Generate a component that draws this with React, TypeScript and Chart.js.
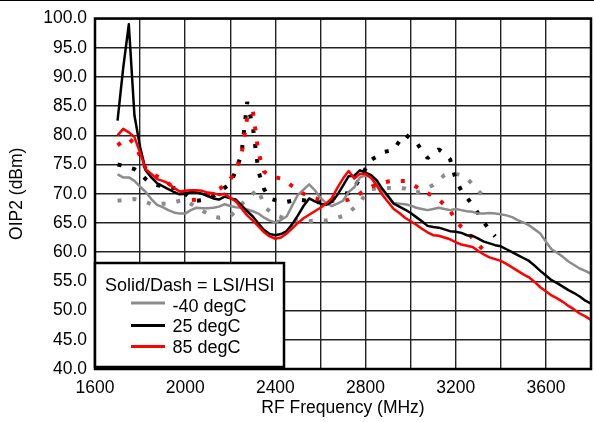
import React, { useEffect, useRef } from "react";
import { Chart, registerables } from "chart.js";

Chart.register(...registerables);

const FONT = '"Liberation Sans", Arial, sans-serif';

// Frequencies (MHz)
const lsiFreq = [
  1700, 1725, 1750, 1775, 1800, 1825, 1850, 1875, 1900, 1925, 1950, 1975,
  2000, 2025, 2050, 2075, 2100, 2125, 2150, 2175, 2200, 2225, 2250, 2275,
  2300, 2325, 2350, 2375, 2400, 2425, 2450, 2475, 2500, 2525, 2550, 2575,
  2600, 2625, 2650, 2675, 2700, 2725, 2750, 2775, 2800, 2825, 2850, 2875,
  2900, 2925, 2950, 2975, 3000, 3025, 3050, 3075, 3100, 3125, 3150, 3175,
  3200, 3225, 3250, 3275, 3300, 3325, 3350, 3375, 3400, 3425, 3450, 3475,
  3500, 3525, 3550, 3575, 3600, 3625, 3650, 3675, 3700, 3725, 3750, 3775, 3800,
];
const hsiFreq = [
  1700, 1725, 1750, 1775, 1800, 1825, 1850, 1875, 1900, 1925, 1950, 1975,
  2000, 2025, 2050, 2075, 2100, 2125, 2150, 2175, 2200, 2225, 2250, 2275,
  2300, 2325, 2350, 2375, 2400, 2425, 2450, 2475, 2500, 2525, 2550, 2575,
  2600, 2625, 2650, 2675, 2700, 2725, 2750, 2775, 2800, 2825, 2850, 2875,
  2900, 2925, 2950, 2975, 3000, 3025, 3050, 3075, 3100, 3125, 3150, 3175,
  3200, 3225, 3250, 3275, 3300, 3325, 3350, 3375,
];

// Solid = LSI
const lsiM40 = [
  73.3, 72.8, 72.8, 72.2, 71.2, 70.3, 69.1, 68.1, 67.7, 67.2, 66.8, 66.6,
  66.6, 67.2, 67.6, 67.5, 67.5, 67.6, 67.8, 68.2, 67.9, 67.7, 67.6, 67.3,
  67.0, 66.6, 65.9, 65.4, 65.1, 65.5, 66.1, 68.0, 69.8, 70.7, 71.6, 70.6,
  69.3, 68.4, 67.9, 68.3, 68.8, 70.3, 71.1, 72.8, 73.1, 72.9, 71.9, 70.4,
  69.4, 68.4, 68.3, 68.2, 68.0, 67.6, 67.4, 67.2, 67.4, 67.6, 67.4, 67.2,
  67.4, 67.2, 67.0, 66.9, 66.6, 66.6, 66.7, 66.6, 66.5, 66.3, 66.0, 65.5,
  65.1, 64.6, 63.9, 63.2, 61.8, 60.5, 59.9, 59.2, 58.4, 57.8, 57.2, 56.8, 56.3,
];
const lsi25 = [
  82.5, 91.5, 99.0, 83.4, 78.0, 74.0, 72.8, 71.8, 71.3, 70.8, 70.3, 69.9,
  70.0, 70.3, 70.2, 70.0, 69.6, 69.2, 69.0, 69.5, 69.2, 69.0, 68.0, 67.0,
  66.1, 64.9, 63.8, 63.1, 62.9, 63.1, 63.6, 64.8, 66.3, 67.9, 69.2, 68.7,
  68.3, 68.1, 68.6, 69.8, 71.4, 73.0, 73.1, 74.0, 73.6, 73.2, 72.3, 70.8,
  69.6, 68.3, 67.8, 67.3, 66.7, 66.0, 65.3, 64.5, 64.3, 64.2, 63.9, 63.6,
  63.5, 63.3, 62.9, 62.8, 62.3, 61.8, 61.5, 61.2, 61.0, 60.5, 60.0, 59.5,
  59.0, 58.5, 57.7, 56.8, 56.0, 55.2, 54.7, 54.1, 53.5, 53.0, 52.4, 51.7, 51.2,
];
const lsi85 = [
  80.0, 81.1, 80.5, 79.7, 77.0, 74.2, 73.4, 72.5, 72.2, 71.8, 71.0, 70.4,
  70.5, 70.6, 70.6, 70.5, 70.2, 70.1, 69.8, 70.0, 69.3, 68.7, 67.5, 66.3,
  65.4, 64.4, 63.4, 62.7, 62.3, 62.5, 63.2, 64.1, 65.0, 65.8, 66.4, 67.0,
  67.6, 68.3, 69.2, 71.0, 72.6, 73.9, 72.6, 73.4, 73.4, 72.7, 71.4, 69.8,
  68.6, 67.4, 66.7, 65.9, 65.3, 64.7, 64.0, 63.4, 62.9, 62.8, 62.5, 62.2,
  61.7, 61.3, 61.1, 60.9, 60.2, 59.6, 59.1, 58.8, 58.5, 58.0, 57.4, 56.8,
  56.2, 55.7, 54.9, 54.0, 53.3, 52.6, 52.1, 51.5, 50.8, 50.2, 49.5, 49.0, 48.4,
];

// Dash = HSI
const hsiM40 = [
  68.8, 68.9, 69.0, 69.1, 68.9, 68.6, 68.2, 68.2, 68.3, 68.3, 68.5, 68.8,
  69.0, 68.3, 67.7, 67.1, 66.6, 66.1, 65.9, 66.0, 66.2, 67.0, 68.2, 69.2,
  70.0, 70.8, 67.8, 67.0, 66.4, 66.0, 65.7, 65.5, 65.4, 65.3, 65.3, 65.4,
  65.4, 65.4, 65.6, 65.9, 66.2, 66.8, 67.6, 68.5, 69.9, 70.8, 70.9, 71.0,
  71.0, 71.0, 71.0, 70.9, 70.6, 70.2, 70.5, 71.0, 71.5, 72.3, 73.2, 73.5,
  73.4, 73.2, 72.6, 71.6, 70.5, 69.5, 68.8,
];
const hsi25 = [
  75.0, 74.8, 74.5, 74.2, 73.5, 72.5, 71.8, 71.5, 71.3, 71.1, 71.0, 70.9,
  70.0, 69.2, 68.8, 68.9, 69.2, 69.6, 70.2, 71.0, 71.7, 74.0, 76.8, 85.7,
  81.5, 73.8, 70.8, 69.2, 68.9, 68.7, 68.6, 68.8, 69.0, 68.9, 68.7, 68.5,
  68.6, 68.8, 69.1, 69.5, 70.0, 70.1, 71.0, 72.7, 74.3, 75.8, 76.4, 77.1,
  77.3, 77.5, 79.0, 80.2, 79.4, 78.8, 77.4, 76.1, 76.9, 77.6, 76.9, 75.9,
  72.5, 70.5, 69.3, 68.1, 66.6, 65.1, 63.8, 62.7,
];
const hsi85 = [
  78.3, 79.0, 79.5, 78.5, 76.5, 74.3, 73.5, 73.0, 72.6, 71.8, 71.0, 70.4,
  69.8, 68.9, 69.0, 69.3, 69.8, 70.3, 70.8, 71.4, 72.5, 74.0, 76.8, 83.0,
  84.3, 77.0, 73.8, 73.0, 72.8, 72.6, 72.0, 71.3, 70.6, 70.0, 69.6, 69.2,
  69.0, 68.9, 68.8, 68.8, 68.8, 69.0, 69.5, 70.0, 70.8, 71.2, 71.6, 71.9,
  72.1, 72.2, 72.2, 72.2, 71.8, 71.2, 70.6, 70.1, 69.6, 69.0, 68.1, 67.1,
  65.5, 64.3, 63.4, 62.4, 61.3, 60.3, 59.3,
];

const legendTitle = "Solid/Dash = LSI/HSI";
const legendLabels = ["-40 degC", "25 degC", "85 degC"];
const legendColors = ["#8c8c8c", "#000000", "#ff0000"];

const pairs = (xs: number[], ys: number[]) => ys.map((y, i) => ({ x: xs[i], y }));

const overlayPlugin = {
  id: "overlay",
  afterDatasetsDraw(chart: any) {
    const { ctx, chartArea: a } = chart;
    ctx.save();
    // plot frame
    ctx.strokeStyle = "#000";
    ctx.lineWidth = 2.5;
    ctx.strokeRect(a.left, a.top, a.right - a.left, a.bottom - a.top);
    // top rule
    ctx.fillStyle = "#000";
    ctx.fillRect(0, 0, chart.width, 1);
    // legend box
    const bx = a.left, by = a.bottom - 106, bw = 189, bh = 104;
    ctx.fillStyle = "#fff";
    ctx.fillRect(bx, by, bw, bh);
    ctx.lineWidth = 2.5;
    ctx.strokeStyle = "#000";
    ctx.strokeRect(bx, by, bw, bh);
    ctx.font = `18px ${FONT}`;
    ctx.fillStyle = "#000";
    ctx.textAlign = "left";
    ctx.textBaseline = "alphabetic";
    ctx.fillText(legendTitle, bx + 10, a.bottom - 78.5);
    const lineY = [a.bottom - 66, a.bottom - 43.5, a.bottom - 22.5];
    const textY = [a.bottom - 57.5, a.bottom - 37, a.bottom - 16.5];
    legendLabels.forEach((lab, i) => {
      ctx.strokeStyle = legendColors[i];
      ctx.lineWidth = 3;
      ctx.beginPath();
      ctx.moveTo(bx + 36, lineY[i]);
      ctx.lineTo(bx + 70, lineY[i]);
      ctx.stroke();
      ctx.fillStyle = "#000";
      ctx.fillText(lab, bx + 77.5, textY[i]);
    });
    ctx.restore();
  },
};

export default function App() {
  const ref = useRef<HTMLCanvasElement | null>(null);
  useEffect(() => {
    if (!ref.current) return;
    const solid = (label: string, data: any, color: string) => ({
      label, data, borderColor: color, backgroundColor: color,
      borderWidth: 2.5, pointRadius: 0, tension: 0, fill: false,
      borderJoinStyle: "round",
    });
    const dotted = (label: string, data: any, color: string) => ({
      label, data, borderColor: color, backgroundColor: color,
      borderWidth: 4, borderDash: [4, 11], borderCapStyle: "butt",
      borderJoinStyle: "bevel",
      pointRadius: 0, tension: 0, fill: false,
    });
    const tickFont = { family: FONT, size: 17.5 };
    const chart = new Chart(ref.current, {
      type: "line",
      data: {
        datasets: [
          solid("85 degC LSI", pairs(lsiFreq, lsi85), legendColors[2]),
          solid("25 degC LSI", pairs(lsiFreq, lsi25), legendColors[1]),
          solid("-40 degC LSI", pairs(lsiFreq, lsiM40), legendColors[0]),
          dotted("85 degC HSI", pairs(hsiFreq, hsi85), legendColors[2]),
          dotted("25 degC HSI", pairs(hsiFreq, hsi25), legendColors[1]),
          dotted("-40 degC HSI", pairs(hsiFreq, hsiM40), legendColors[0]),
        ] as any,
      },
      options: {
        animation: false,
        responsive: true,
        maintainAspectRatio: false,
        devicePixelRatio: 1,
        layout: { padding: { left: 0, right: 3.4, top: 15, bottom: 0 } },
        plugins: { legend: { display: false }, tooltip: { enabled: false } },
        scales: {
          x: {
            type: "linear",
            min: 1600,
            max: 3800,
            afterFit: (s: any) => { s.height = 53; },
            ticks: {
              stepSize: 200,
              autoSkip: false,
              maxRotation: 0,
              padding: 9,
              color: "#000",
              font: tickFont,
              callback: (v: any) => ((Number(v) - 1600) % 400 === 0 ? String(v) : ""),
            },
            grid: { color: "#222", lineWidth: 1.4, drawTicks: false },
            border: { display: false },
            title: {
              display: true,
              text: "RF Frequency (MHz)",
              color: "#000",
              font: tickFont,
              padding: { top: 0, bottom: 3 },
            },
          },
          y: {
            min: 40,
            max: 100,
            afterFit: (s: any) => { s.width = 95; },
            ticks: {
              stepSize: 5,
              padding: 8,
              color: "#000",
              font: tickFont,
              callback: (v: any) => Number(v).toFixed(1),
            },
            grid: { color: "#222", lineWidth: 1.4, drawTicks: false },
            border: { display: false },
            title: {
              display: true,
              text: "OIP2 (dBm)",
              color: "#000",
              font: tickFont,
              padding: { top: 7, bottom: 0 },
            },
          },
        },
      } as any,
      plugins: [overlayPlugin],
    });
    return () => chart.destroy();
  }, []);
  return (
    <div style={{ position: "fixed", left: 0, top: 0, width: 600, height: 422, background: "#fff" }}>
      <canvas ref={ref} />
    </div>
  );
}
